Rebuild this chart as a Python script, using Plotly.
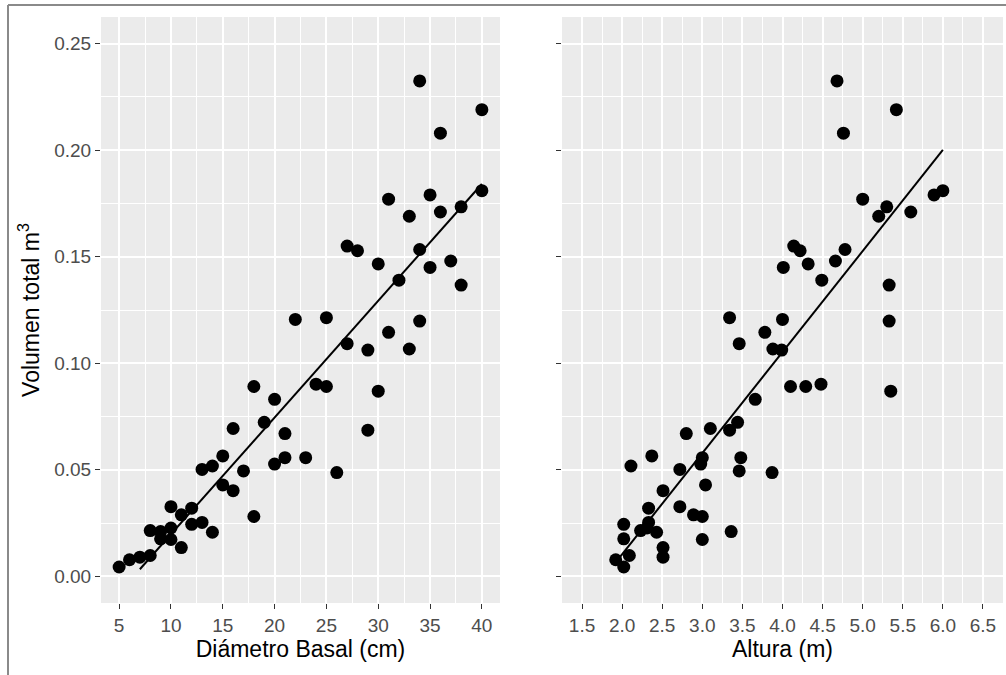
import numpy as np
import plotly.graph_objects as go
from plotly.subplots import make_subplots

# Data
diametro = [5, 6, 7, 8, 11, 10, 9, 14, 9, 8, 10, 12, 13, 18, 11, 12, 10, 16, 15, 26,
            17, 13, 14, 20, 21, 23, 15, 21, 29, 16, 19, 20, 30, 18, 25, 24, 29, 33, 27, 31,
            34, 22, 25, 38, 32, 35, 30, 37, 28, 34, 27, 33, 36, 38, 31, 35, 40, 36, 40, 34]
altura = [2.02, 1.92, 2.51, 2.09, 2.51, 3.00, 2.02, 2.43, 3.36, 2.23, 2.31, 2.02, 2.33, 3.00, 2.89,
          2.33, 2.72, 2.51, 3.04, 3.87, 3.46, 2.72, 2.11, 2.98, 3.00, 3.48, 2.37, 2.80, 3.34, 3.10,
          3.44, 3.66, 5.35, 4.10, 4.29, 4.48, 3.99, 3.88, 3.46, 3.78, 5.33, 4.00, 3.34, 5.33, 4.49,
          4.01, 4.32, 4.66, 4.22, 4.78, 4.14, 5.20, 5.60, 5.30, 5.00, 5.89, 6.00, 4.76, 5.42, 4.68]
volumen = [0.0044, 0.0078, 0.0090, 0.0098, 0.0135, 0.0173, 0.0176, 0.0207, 0.0210, 0.0215,
           0.0227, 0.0244, 0.0253, 0.0281, 0.0289, 0.0320, 0.0327, 0.0402, 0.0429, 0.0487,
           0.0495, 0.0502, 0.0518, 0.0527, 0.0557, 0.0557, 0.0565, 0.0670, 0.0686, 0.0694,
           0.0723, 0.0831, 0.0869, 0.0891, 0.0891, 0.0902, 0.1062, 0.1067, 0.1092, 0.1145,
           0.1198, 0.1206, 0.1214, 0.1367, 0.1390, 0.1450, 0.1466, 0.1480, 0.1528, 0.1534,
           0.1550, 0.1690, 0.1710, 0.1734, 0.1770, 0.1790, 0.1810, 0.2080, 0.2190, 0.2325]

ticks_d = [5, 10, 15, 20, 25, 30, 35, 40]
ticks_h = [1.5, 2.0, 2.5, 3.0, 3.5, 4.0, 4.5, 5.0, 5.5, 6.0, 6.5]
ticks_v = [0.00, 0.05, 0.10, 0.15, 0.20, 0.25]

FONT = "Liberation Sans, Arial, sans-serif"
W, H = 1006, 675


def fit_line(x, y):
    x = np.asarray(x, float)
    y = np.asarray(y, float)
    b1, b0 = np.polyfit(x, y, 1)
    pred = b0 + b1 * x
    keep = pred >= 0  # values outside the y limits are dropped (as in ggplot ylim)
    order = np.argsort(x[keep])
    return x[keep][order], pred[keep][order]


fig = make_subplots(rows=1, cols=2, shared_yaxes=False)

for col, xs in [(1, diametro), (2, altura)]:
    fig.add_trace(go.Scatter(x=xs, y=volumen, mode="markers",
                             marker=dict(color="black", size=13, line=dict(width=0)),
                             showlegend=False), row=1, col=col)
    lx, ly = fit_line(xs, volumen)
    fig.add_trace(go.Scatter(x=lx, y=ly, mode="lines",
                             line=dict(color="black", width=2),
                             showlegend=False), row=1, col=col)

def px_x(p):
    return p / W

def px_y(p):
    return 1 - p / H

axis_common = dict(
    showline=False, zeroline=False, ticks="outside", ticklen=5, tickwidth=1.2,
    tickcolor="#333333", showgrid=True, gridcolor="white", gridwidth=1.6,
    tickfont=dict(family=FONT, size=19, color="#4D4D4D"),
)
minor_common = dict(showgrid=True, gridcolor="white", gridwidth=0.8, ticks="")

fig.update_xaxes(**axis_common)
fig.update_yaxes(**axis_common)

fig.update_layout(
    xaxis=dict(domain=[px_x(101), px_x(500)], range=[3.25, 41.75],
               tickvals=ticks_d, ticktext=[str(t) for t in ticks_d],
               minor=dict(dtick=2.5, tick0=5, **minor_common),
               title=dict(text="Diámetro Basal (cm)", standoff=6,
                          font=dict(family=FONT, size=23, color="black"))),
    xaxis2=dict(domain=[px_x(562), px_x(1003)], range=[1.25, 6.75],
                tickvals=ticks_h, ticktext=[f"{t:.1f}" for t in ticks_h],
                minor=dict(dtick=0.25, tick0=1.5, **minor_common),
                title=dict(text="Altura (m)", standoff=6,
                           font=dict(family=FONT, size=23, color="black"))),
    yaxis=dict(domain=[px_y(603), px_y(17)], range=[-0.0125, 0.2625],
               tickvals=ticks_v, ticktext=[f"{t:.2f}" for t in ticks_v],
               minor=dict(dtick=0.025, tick0=0, **minor_common),
               title=dict(text="Volumen total m<sup>3</sup>", standoff=8,
                          font=dict(family=FONT, size=23, color="black"))),
    yaxis2=dict(domain=[px_y(603), px_y(17)], range=[-0.0125, 0.2625],
                tickvals=ticks_v, showticklabels=False,
                minor=dict(dtick=0.025, tick0=0, **minor_common)),
    plot_bgcolor="#EBEBEB", paper_bgcolor="white",
    width=W, height=H, margin=dict(l=0, r=0, t=0, b=0),
    font=dict(family=FONT),
    shapes=[
        dict(type="line", xref="paper", yref="paper", x0=px_x(8), x1=1.0,
             y0=px_y(5), y1=px_y(5), line=dict(color="#8a8a8a", width=2)),
        dict(type="line", xref="paper", yref="paper", x0=px_x(8), x1=px_x(8),
             y0=0, y1=px_y(5), line=dict(color="#8a8a8a", width=2)),
    ],
)

fig.write_html("out.html")
